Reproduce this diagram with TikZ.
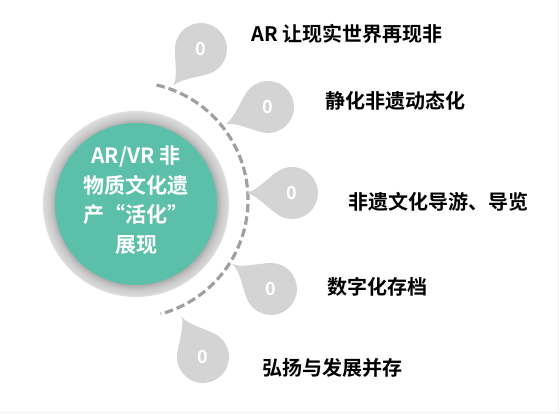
\documentclass[tikz,border=0pt]{standalone}
\usepackage{fontspec}
\setmainfont{Noto Sans CJK SC}
\newfontfamily\cjkbold{Noto Sans CJK SC Bold}
\definecolor{coreteal}{HTML}{5BBFA9}
\definecolor{dropgray}{HTML}{D4D4D4}
\definecolor{dashgray}{HTML}{A0A0A0}
\definecolor{ringdark}{HTML}{A9A9A9}
\definecolor{ringmid}{HTML}{C8C8C8}
\definecolor{ringlight}{HTML}{DEDEDE}
\pgfdeclareradialshading{ringshade}{\pgfpointorigin}{color(0bp)=(ringdark); color(21.6bp)=(ringdark); color(23bp)=(ringmid); color(25bp)=(ringlight); color(50bp)=(ringlight)}
\tikzset{
    zero/.style={text=white, font=\cjkbold\fontsize{18}{18}\selectfont, inner sep=0pt},
    lbl/.style={anchor=west, inner sep=0pt, font=\cjkbold\fontsize{20}{20}\selectfont}
}
\begin{document}
\begin{tikzpicture}[x=1pt, y=-1pt, >=latex]
\useasboundingbox (0,0) rectangle (560,414);
\draw[black!5] (0,412)--(558,412)--(558,0);
% core circle
\shade[shading=ringshade] (136,204) circle (93);
\fill[coreteal] (136,204) circle (81);
\node[text=white, align=center, inner sep=0pt, font=\cjkbold\fontsize{21}{29.5}\selectfont] (core) at (136,200) {AR/VR 非\\物质文化遗\\产“活化”\\展现};
% dashed arc
\coordinate (hub) at (130,200);
\draw[dashgray, line width=3.2pt, dash pattern=on 8.5pt off 4pt] (hub) ++(-77:118) arc[start angle=-77, end angle=75, radius=118];
% drops
\foreach \i/\x/\y/\a in {1/201/49/127, 2/268/107/158, 3/292/193/180, 4/271/289/213, 5/203/357/242}
{
    \fill[dropgray, shift={(\x,\y)}, rotate=180-\a] (-46,0) .. controls (-37,1) and (-24.5,14.5) .. (125:26) arc[start angle=125, end angle=-125, radius=26] .. controls (-24.5,-14.5) and (-37,-1) .. cycle;
    \node[zero] (d\i) at (\x,\y) {0};
}
% labels
\node[lbl] (t1) at (251,34) {AR 让现实世界再现非};
\node[lbl] (t2) at (325,101) {静化非遗动态化};
\node[lbl] (t3) at (348,202) {非遗文化导游、导览};
\node[lbl] (t4) at (327,287) {数字化存档};
\node[lbl] (t5) at (262,368) {弘扬与发展并存};
\end{tikzpicture}
\end{document}
